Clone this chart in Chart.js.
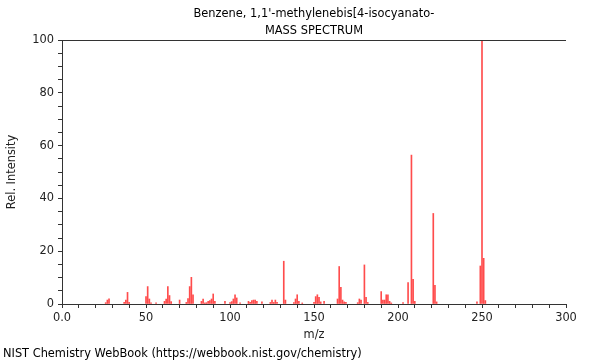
<!DOCTYPE html>
<html>
<head>
<meta charset="utf-8">
<script src="https://cdn.jsdelivr.net/npm/chart.js@4"></script>
<style>
  html, body { margin: 0; padding: 0; background: #fff; }
  #wrap { position: relative; width: 600px; height: 360px; font-family: "DejaVu Sans", sans-serif; color: #000; }
  #wrap canvas { position: absolute; left: 0; top: 0; }
  .t { position: absolute; font-size: 11.4px; white-space: nowrap; line-height: 13px; }
  #t1 { left: 314px; top: 7px; transform: translateX(-50%); }
  #t2 { left: 314px; top: 24px; transform: translateX(-50%); }
  #foot { left: 3px; top: 347px; }
</style>
</head>
<body>
<div id="wrap">
  <canvas id="c" width="600" height="360"></canvas>
  <div class="t" id="t1">Benzene, 1,1'-methylenebis[4-isocyanato-</div>
  <div class="t" id="t2">MASS SPECTRUM</div>
  <div class="t" id="foot">NIST Chemistry WebBook (https://webbook.nist.gov/chemistry)</div>
</div>
<script>
const mz = [26,27,28,37,38,39,40,50,51,52,53,56,61,62,63,64,65,70,74,75,76,77,78,83,84,85,86,87,88,89,90,91,97,100,101,102,103,104,106,111,112,113,114,115,116,119,124,125,126,127,128,132,133,138,139,140,141,143,150,151,152,153,154,156,164,165,166,167,168,169,176,177,178,180,181,182,190,191,192,193,194,195,196,203,206,208,209,210,221,222,223,247,249,250,251,252];
const intensity = [0.5,1.5,2.0,0.6,1.5,4.4,0.6,2.8,6.6,1.9,0.4,0.4,1.0,1.9,6.6,3.2,0.9,1.5,0.6,2.1,6.6,10.1,3.5,1.0,1.9,0.4,0.5,1.0,1.3,1.9,3.8,1.0,1.0,0.5,0.9,1.9,3.5,2.3,0.4,1.0,0.6,1.3,1.5,1.5,1.0,0.8,0.6,1.5,0.6,1.5,0.6,16.2,1.5,0.5,1.9,3.5,1.0,0.4,0.6,2.8,3.5,2.5,0.8,1.0,1.9,14.2,6.3,1.5,0.8,0.6,0.5,1.9,1.5,14.8,2.5,0.6,4.7,1.5,1.5,3.5,3.5,1.0,0.4,0.5,8.1,56.4,9.3,1.0,34.3,7.1,0.8,0.8,14.4,100,17.3,1.3];
const xMajorLabels = {0:'0.0',50:'50',100:'100',150:'150',200:'200',250:'250',300:'300'};
const yMajorLabels = {0:'0',20:'20',40:'40',60:'60',80:'80',100:'100'};

const points = mz.map((m, i) => ({x: m, y: intensity[i]}));

const topLine = {
  id: 'topLine',
  afterDraw(chart) {
    const {ctx, chartArea} = chart;
    ctx.save();
    ctx.strokeStyle = '#333';
    ctx.lineWidth = 1;
    ctx.beginPath();
    ctx.moveTo(chartArea.left, Math.round(chartArea.top) + 0.5);
    ctx.lineTo(chartArea.right, Math.round(chartArea.top) + 0.5);
    ctx.stroke();
    ctx.restore();
  }
};

const axisFont = { family: 'DejaVu Sans', size: 11.4 };

new Chart(document.getElementById('c'), {
  type: 'bar',
  data: {
    datasets: [{
      data: points,
      backgroundColor: 'rgba(255,0,0,0.7)',
      borderWidth: 0,
      barThickness: 1
    }]
  },
  options: {
    responsive: false,
    animation: false,
    layout: { padding: { left: 0, right: 34, top: 40, bottom: 18 } },
    plugins: { legend: { display: false }, tooltip: { enabled: false }, title: { display: false } },
    scales: {
      x: {
        type: 'linear',
        min: 0, max: 300,
        offset: false,
        grid: { display: true, drawOnChartArea: false, offset: false, tickLength: 4, tickColor: '#333' },
        border: { display: true, color: '#333', width: 1 },
        ticks: {
          stepSize: 10, autoSkip: false, maxRotation: 0,
          color: '#222', padding: 3,
          font: axisFont,
          callback: v => (xMajorLabels[v] !== undefined ? xMajorLabels[v] : '')
        },
        title: { display: true, text: 'm/z', color: '#222', font: axisFont, padding: { top: 0, bottom: 0 } },
        afterFit(s) { s.height = 38; }
      },
      y: {
        min: 0, max: 100,
        grid: { display: true, drawOnChartArea: false, tickLength: 4, tickColor: '#333' },
        border: { display: true, color: '#333', width: 1 },
        ticks: {
          stepSize: 5, autoSkip: false,
          color: '#222', padding: 4,
          font: axisFont,
          callback: v => (yMajorLabels[v] !== undefined ? yMajorLabels[v] : '')
        },
        title: { display: true, text: 'Rel. Intensity', color: '#222', font: axisFont, padding: { top: 5, bottom: 0 } },
        afterFit(s) { s.width = 62; }
      }
    }
  },
  plugins: [topLine]
});
</script>
</body>
</html>
